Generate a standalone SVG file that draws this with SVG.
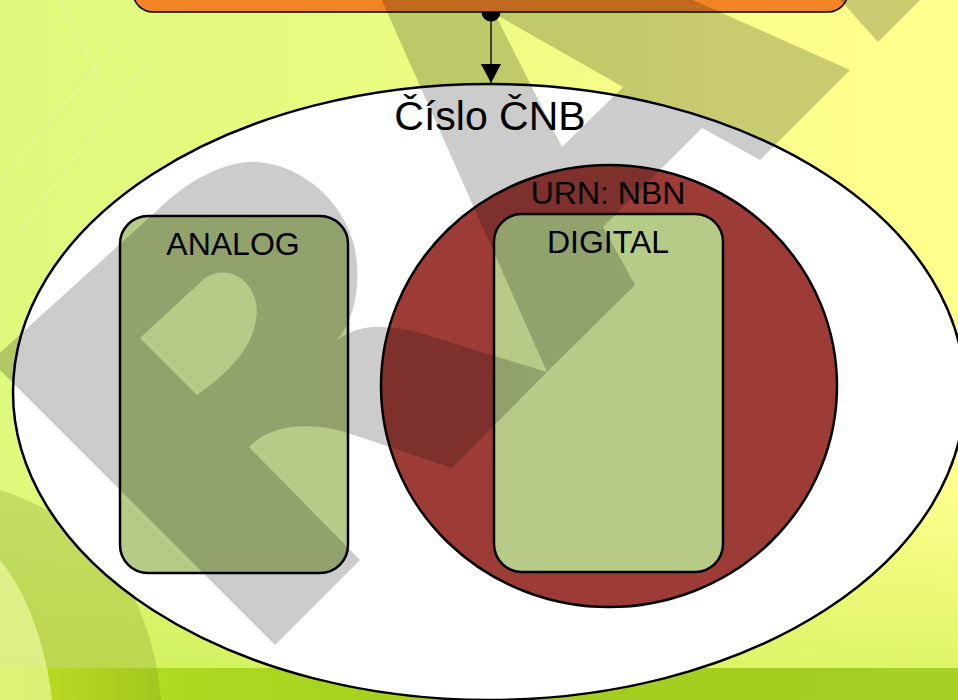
<svg xmlns="http://www.w3.org/2000/svg" width="958" height="700" viewBox="0 0 958 700">
<defs>
<linearGradient id="bg" x1="0" y1="0" x2="958" y2="0" gradientUnits="userSpaceOnUse">
<stop offset="0" stop-color="#DEF97C"/>
<stop offset="0.5" stop-color="#EDFC82"/>
<stop offset="0.75" stop-color="#FBFE8A"/>
<stop offset="1" stop-color="#FFFF8E"/>
</linearGradient>
<linearGradient id="bgLow" x1="0" y1="480" x2="0" y2="668" gradientUnits="userSpaceOnUse">
<stop offset="0" stop-color="#C4EC48" stop-opacity="0"/>
<stop offset="1" stop-color="#C4EC48" stop-opacity="0.55"/>
</linearGradient>
<linearGradient id="band" x1="0" y1="0" x2="958" y2="0" gradientUnits="userSpaceOnUse">
<stop offset="0" stop-color="#DAFF2C"/>
<stop offset="0.18" stop-color="#AEDA22"/>
<stop offset="0.5" stop-color="#A2CE1E"/>
<stop offset="1" stop-color="#A6D024"/>
</linearGradient>
<marker id="arrow" viewBox="0 -10 19 20" refX="19" refY="0" markerWidth="19" markerHeight="20" markerUnits="userSpaceOnUse" orient="auto">
<path d="M0,-10 L19,0 L0,10 Z" fill="#000"/>
</marker>
<marker id="dot" viewBox="-10 -10 20 20" refX="0" refY="0" markerWidth="20" markerHeight="20" markerUnits="userSpaceOnUse" orient="auto">
<path d="M0,-9.5 A9.5,9.5 0 0 1 0,9.5 Z" fill="#000"/>
</marker>
</defs>
<style>
.lbl{font-family:"Liberation Sans",Arial,sans-serif;fill:#000;text-anchor:middle}
.box{fill:#B7CB88;stroke:#000;stroke-width:2.5}
.wm{fill:#000;fill-opacity:0.2}
.conn{stroke:#000;stroke-width:1.3;fill:none}
</style>

<g id="background">
<rect x="0" y="0" width="958" height="700" fill="url(#bg)"/>
<rect x="0" y="480" width="958" height="188" fill="url(#bgLow)"/>
<g stroke="#FFFFFF" stroke-opacity="0.12" stroke-width="3" fill="none">
<path d="M0,180 L120,40"/>
<path d="M20,230 L150,60"/>
<path d="M60,0 L100,80"/>
</g>
<rect x="0" y="668" width="958" height="32" fill="url(#band)"/>
<path d="M0,490 C90,520 150,580 161,700 L0,700 Z" fill="#6E7A10" fill-opacity="0.22"/>
<path d="M0,560 C25,590 45,640 52,700 L0,700 Z" fill="#F4FFA8" fill-opacity="0.6"/>
</g>

<g id="node-top">
<rect x="133" y="-40" width="715" height="52" rx="20" fill="#F28426" stroke="#000" stroke-width="1.5"/>
</g>

<g id="node-cislo">
<ellipse cx="489" cy="392" rx="476" ry="308" fill="#FFFFFF" stroke="#000" stroke-width="2.5"/>
<text class="lbl" x="490" y="130" font-size="41">Číslo ČNB</text>
</g>

<g id="node-urn">
<ellipse cx="609" cy="386" rx="228" ry="221" fill="#9D3C37" stroke="#000" stroke-width="2.5"/>
<text class="lbl" x="608" y="204" font-size="32">URN: NBN</text>
</g>

<g id="node-analog">
<rect class="box" x="120" y="216" width="228" height="357" rx="28"/>
<text class="lbl" x="233" y="255" font-size="32">ANALOG</text>
</g>

<g id="node-digital">
<rect class="box" x="494" y="214" width="229" height="358" rx="28"/>
<text class="lbl" x="608" y="253" font-size="32">DIGITAL</text>
</g>

<g id="connectors">
<line class="conn" x1="491" y1="12" x2="491" y2="83" marker-start="url(#dot)" marker-end="url(#arrow)"/>
</g>

<g id="watermark">
<path class="wm" fill-rule="evenodd" d="M364,-40 L603,-40 L850,70 L760,160 L702,128 L603,227 L635,285 L547,372 Z M495,14 L623,87 L562,147 Z"/>
<path class="wm" fill-rule="evenodd" d="M-9,361 L163,205 C195,175 232,160 258,162 C305,166 343,203 354,245 C362,280 356,318 337,340 C352,330 366,326 383,327 C400,328 416,331 433,337 L547,372 L452,468 L348,433 C320,424 275,420 249,447 L360,560 L275,645 Z M140,338 L205,278 C235,260 262,290 256,320 C252,345 235,368 197,395 Z"/>
<path class="wm" d="M878,42 L800,-45 L965,-45 Z"/>
</g>
</svg>
